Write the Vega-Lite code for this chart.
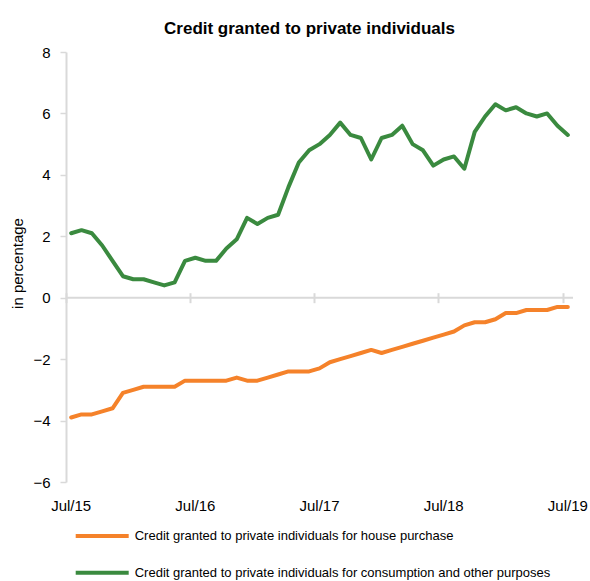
{
  "$schema": "https://vega.github.io/schema/vega-lite/v6.json",
  "width": 507,
  "height": 430,
  "autosize": "none",
  "padding": {"left": 66, "top": 52, "right": 17, "bottom": 99},
  "background": "white",
  "config": {"view": {"stroke": null}, "font": "Liberation Sans"},
  "title": {
    "text": "Credit granted to private individuals",
    "font": "Liberation Sans",
    "fontSize": 17,
    "fontWeight": "bold",
    "color": "#000000",
    "anchor": "middle",
    "dx": -10,
    "baseline": "alphabetic",
    "offset": -6
  },
  "data": {
    "values": [
      {"date": "2015-07", "h": -3.9, "c": 2.1},
      {"date": "2015-08", "h": -3.8, "c": 2.2},
      {"date": "2015-09", "h": -3.8, "c": 2.1},
      {"date": "2015-10", "h": -3.7, "c": 1.7},
      {"date": "2015-11", "h": -3.6, "c": 1.2},
      {"date": "2015-12", "h": -3.1, "c": 0.7},
      {"date": "2016-01", "h": -3.0, "c": 0.6},
      {"date": "2016-02", "h": -2.9, "c": 0.6},
      {"date": "2016-03", "h": -2.9, "c": 0.5},
      {"date": "2016-04", "h": -2.9, "c": 0.4},
      {"date": "2016-05", "h": -2.9, "c": 0.5},
      {"date": "2016-06", "h": -2.7, "c": 1.2},
      {"date": "2016-07", "h": -2.7, "c": 1.3},
      {"date": "2016-08", "h": -2.7, "c": 1.2},
      {"date": "2016-09", "h": -2.7, "c": 1.2},
      {"date": "2016-10", "h": -2.7, "c": 1.6},
      {"date": "2016-11", "h": -2.6, "c": 1.9},
      {"date": "2016-12", "h": -2.7, "c": 2.6},
      {"date": "2017-01", "h": -2.7, "c": 2.4},
      {"date": "2017-02", "h": -2.6, "c": 2.6},
      {"date": "2017-03", "h": -2.5, "c": 2.7},
      {"date": "2017-04", "h": -2.4, "c": 3.6},
      {"date": "2017-05", "h": -2.4, "c": 4.4},
      {"date": "2017-06", "h": -2.4, "c": 4.8},
      {"date": "2017-07", "h": -2.3, "c": 5.0},
      {"date": "2017-08", "h": -2.1, "c": 5.3},
      {"date": "2017-09", "h": -2.0, "c": 5.7},
      {"date": "2017-10", "h": -1.9, "c": 5.3},
      {"date": "2017-11", "h": -1.8, "c": 5.2},
      {"date": "2017-12", "h": -1.7, "c": 4.5},
      {"date": "2018-01", "h": -1.8, "c": 5.2},
      {"date": "2018-02", "h": -1.7, "c": 5.3},
      {"date": "2018-03", "h": -1.6, "c": 5.6},
      {"date": "2018-04", "h": -1.5, "c": 5.0},
      {"date": "2018-05", "h": -1.4, "c": 4.8},
      {"date": "2018-06", "h": -1.3, "c": 4.3},
      {"date": "2018-07", "h": -1.2, "c": 4.5},
      {"date": "2018-08", "h": -1.1, "c": 4.6},
      {"date": "2018-09", "h": -0.9, "c": 4.2},
      {"date": "2018-10", "h": -0.8, "c": 5.4},
      {"date": "2018-11", "h": -0.8, "c": 5.9},
      {"date": "2018-12", "h": -0.7, "c": 6.3},
      {"date": "2019-01", "h": -0.5, "c": 6.1},
      {"date": "2019-02", "h": -0.5, "c": 6.2},
      {"date": "2019-03", "h": -0.4, "c": 6.0},
      {"date": "2019-04", "h": -0.4, "c": 5.9},
      {"date": "2019-05", "h": -0.4, "c": 6.0},
      {"date": "2019-06", "h": -0.3, "c": 5.6},
      {"date": "2019-07", "h": -0.3, "c": 5.3}
    ]
  },
  "transform": [{"fold": ["h", "c"], "as": ["series", "value"]}],
  "resolve": {"axis": {"x": "independent"}},
  "layer": [
    {
      "data": {"values": [{}]},
      "mark": {"type": "rule", "color": "#d9d9d9", "strokeWidth": 2},
      "encoding": {"y": {"datum": 0, "type": "quantitative"}}
    },
    {
      "mark": {"type": "line", "strokeOpacity": 0},
      "encoding": {
        "x": {
          "field": "date",
          "type": "ordinal",
          "bandPosition": 0.5,
          "scale": {"type": "band", "paddingInner": 0, "paddingOuter": 0},
          "axis": {
            "orient": "top",
            "offset": -250.7,
            "values": ["2015-07", "2016-07", "2017-07", "2018-07", "2019-07"],
            "tickBand": "center",
            "tickOffset": -5.17,
            "tickSize": 10,
            "tickWidth": 2,
            "tickColor": "#d9d9d9",
            "domain": false,
            "labels": false,
            "title": null,
            "grid": false
          }
        },
        "y": {"field": "value", "type": "quantitative"},
        "detail": {"field": "series"}
      }
    },
    {
      "mark": {"type": "line", "strokeWidth": 4, "strokeJoin": "round", "strokeCap": "round"},
      "encoding": {
        "x": {
          "field": "date",
          "type": "ordinal",
          "bandPosition": 0.5,
          "scale": {"type": "band", "paddingInner": 0, "paddingOuter": 0},
          "axis": {
            "orient": "bottom",
            "values": ["2015-07", "2016-07", "2017-07", "2018-07", "2019-07"],
            "labelExpr": "'Jul/' + slice(datum.value, 2, 4)",
            "labelAngle": 0,
            "labelFont": "Liberation Sans",
            "labelFontSize": 15,
            "labelColor": "#000000",
            "labelPadding": 16,
            "ticks": false,
            "domain": false,
            "grid": false,
            "title": null
          }
        },
        "y": {
          "field": "value",
          "type": "quantitative",
          "scale": {"domain": [-6, 8], "nice": false},
          "axis": {
            "values": [-6, -4, -2, 0, 2, 4, 6, 8],
            "grid": false,
            "domainColor": "#d9d9d9",
            "domainWidth": 2,
            "tickColor": "#d9d9d9",
            "tickWidth": 1.5,
            "tickSize": 6,
            "labelPadding": 10,
            "labelFont": "Liberation Sans",
            "labelFontSize": 15,
            "labelColor": "#000000",
            "title": "in percentage",
            "titleFont": "Liberation Sans",
            "titleFontSize": 15,
            "titleFontWeight": "normal",
            "titleColor": "#000000",
            "titleX": -49,
            "titleY": 211,
            "titleAngle": -90,
            "titleAlign": "center",
            "titleBaseline": "middle"
          }
        },
        "color": {
          "field": "series",
          "type": "nominal",
          "scale": {"domain": ["h", "c"], "range": ["#F5822A", "#3A8A3F"]},
          "legend": {
            "orient": "none",
            "legendX": 7.7,
            "legendY": 474,
            "direction": "vertical",
            "title": null,
            "symbolType": "stroke",
            "symbolSize": 2809,
            "symbolStrokeWidth": 4,
            "clipHeight": 20,
            "rowPadding": 16.7,
            "labelOffset": 4,
            "padding": 0,
            "labelFont": "Liberation Sans",
            "labelFontSize": 13,
            "labelColor": "#000000",
            "labelLimit": 600,
            "labelExpr": "datum.value == 'h' ? 'Credit granted to private individuals for house purchase' : 'Credit granted to private individuals for consumption and other purposes'"
          }
        }
      }
    }
  ]
}
